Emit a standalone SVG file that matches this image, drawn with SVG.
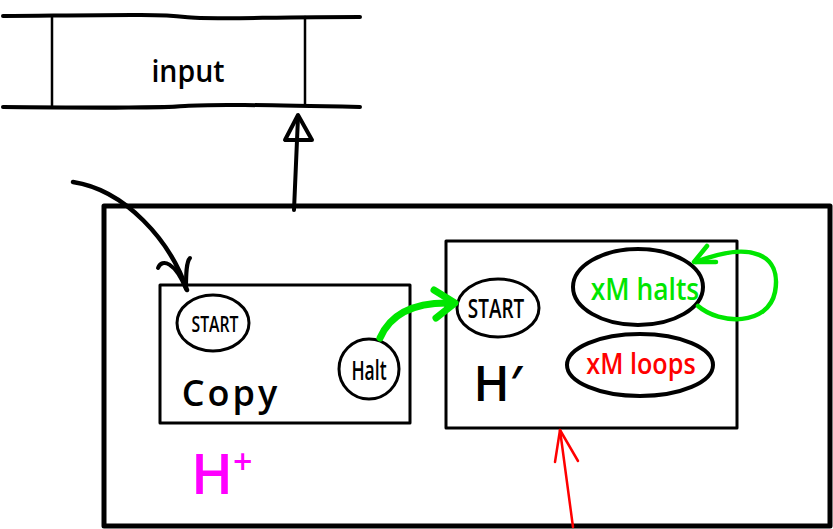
<svg xmlns="http://www.w3.org/2000/svg" width="833" height="529" viewBox="0 0 833 529">
<style>
.k{fill:none;stroke:#000;stroke-linecap:round;stroke-linejoin:round}
.t{font-family:"Open Sans","DejaVu Sans",sans-serif;text-anchor:middle}
.g{fill:none;stroke:#00e600;stroke-linecap:round;stroke-linejoin:round}
.r{fill:none;stroke:#ff0000;stroke-linecap:round;stroke-linejoin:round}
</style>
<rect width="833" height="529" fill="#fff"/>
<g id="tape">
<path class="k" stroke-width="4" d="M3,16 C120,15 160,14 185,17 C210,20 260,17 360,17"/>
<path class="k" stroke-width="4" d="M3,107 C120,108 160,108 185,106 C210,104 260,105 360,107"/>
<path class="k" stroke-width="2.5" d="M52,16 L52,107 M305,17 L305,105"/>
<text class="t" x="188" y="82" font-size="30" fill="#000" font-weight="600" transform="translate(188,0) scale(0.95,1) translate(-188,0)">input</text>
</g>
<g id="outer">
<rect class="k" x="104" y="206" width="726" height="320" stroke-width="5"/>
<text x="191" y="494" font-family="Open Sans, DejaVu Sans, sans-serif" font-size="56" font-weight="600" fill="#ff00ff">H<tspan dy="-20" font-size="34">+</tspan></text>
</g>
<g id="copy">
<rect class="k" x="160" y="285" width="250" height="138" stroke-width="3"/>
<text class="t" x="231" y="406" font-size="36" font-weight="600" letter-spacing="3" fill="#000">Copy</text>
</g>
<g id="copy-start">
<ellipse class="k" cx="213" cy="323" rx="36" ry="28" stroke-width="3"/>
<text class="t" x="215" y="332" font-size="21" font-weight="600" fill="#000" transform="translate(215,0) scale(0.75,1) translate(-215,0)">START</text>
</g>
<g id="copy-halt">
<circle class="k" cx="369" cy="369" r="30" stroke-width="3"/>
<text class="t" x="369" y="380" font-size="27" font-weight="600" fill="#000" transform="translate(369,0) scale(0.65,1) translate(-369,0)">Halt</text>
</g>
<g id="hprime">
<rect class="k" x="446" y="241" width="291" height="187" stroke-width="3"/>
<text class="t" x="498" y="401" font-size="48" font-weight="600" fill="#000">H′</text>
</g>
<g id="hprime-start">
<ellipse class="k" cx="498" cy="308" rx="41" ry="29" stroke-width="3"/>
<text class="t" x="496" y="318" font-size="27" font-weight="600" fill="#000" transform="translate(496,0) scale(0.7,1) translate(-496,0)">START</text>
</g>
<g id="halts">
<ellipse class="k" cx="638" cy="287" rx="65" ry="38" stroke-width="4"/>
<text class="t" x="645" y="300" font-size="30" font-weight="600" fill="#00e600" transform="translate(645,0) scale(0.88,1) translate(-645,0)">xM halts</text>
</g>
<g id="loops">
<ellipse class="k" cx="640" cy="365" rx="73" ry="31" stroke-width="4"/>
<text class="t" x="641" y="374" font-size="28" font-weight="600" fill="#ff0000" transform="translate(641,0) scale(0.9,1) translate(-641,0)">xM loops</text>
</g>
<g id="connectors">
<path class="k" stroke-width="4" d="M294,210 L298,117"/>
<path class="k" stroke-width="4" d="M298,115 L285,140 L312,140 Z"/>
<path class="k" stroke-width="4.5" d="M73,182 C125,190 170,240 187,290"/>
<path class="k" stroke-width="4" d="M158,268 C162,258 175,262 186,289 C186,275 186,262 190,258"/>
<path class="g" stroke-width="7" d="M380,338 C392,310 420,302 452,303"/>
<path class="g" stroke-width="7" d="M434,290 L455,303 L436,318"/>
<path class="g" stroke-width="4.5" d="M698,306 C720,325 768,326 775,292 C782,255 752,240 696,262"/>
<path class="g" stroke-width="4.5" d="M707,246 L694,262 L716,262"/>
<path class="r" stroke-width="2.5" d="M573,527 L560,430"/>
<path class="r" stroke-width="2.5" d="M555,462 L560,430 L578,461"/>
</g>
</svg>
